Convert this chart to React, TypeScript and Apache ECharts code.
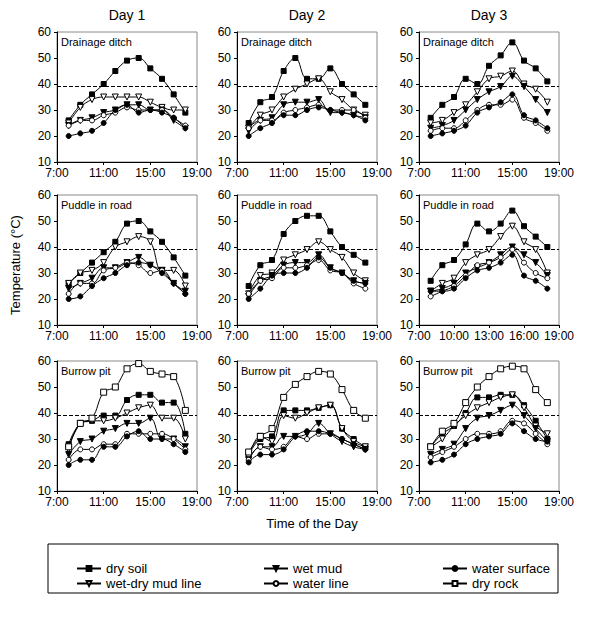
import React, { useEffect, useRef } from "react";
import * as echarts from "echarts";

const hours = [8, 9, 10, 11, 12, 13, 14, 15, 16, 17, 18];
const seriesNames = ["dry soil", "wet-dry mud line", "wet mud", "water line", "water surface", "dry rock"];
const days = ["Day 1", "Day 2", "Day 3"];
const sites = ["Drainage ditch", "Puddle in road", "Burrow pit"];
const threshold = 39;

// order: dry soil, wet-dry mud line, wet mud, water line, water surface, (dry rock)
const ditchDay1 = [
  [26, 32, 36, 40, 45, 49, 50, 46, 42, 36, 29],
  [25, 31, 34, 35, 35, 35, 35, 33, 31, 30, 30],
  [24, 26, 27, 29, 30, 32, 32, 30, 30, 26, 23],
  [24, 26, 26, 28, 29, 31, 30, 30, 30, 27, 24],
  [20, 21, 22, 25, 30, 32, 29, 30, 29, 27, 23],
];
const ditchDay2 = [
  [25, 33, 35, 45, 50, 42, 42, 46, 40, 36, 32],
  [23, 28, 30, 35, 38, 40, 42, 37, 34, 30, 28],
  [22, 26, 27, 32, 33, 33, 34, 29, 29, 28, 27],
  [23, 26, 26, 29, 30, 31, 32, 30, 30, 30, 27],
  [20, 23, 25, 28, 28, 30, 31, 30, 29, 28, 26],
];
const ditchDay3 = [
  [27, 32, 35, 42, 40, 47, 51, 56, 49, 46, 41],
  [25, 26, 29, 32, 37, 42, 43, 45, 40, 38, 33],
  [23, 24, 26, 30, 34, 37, 39, 43, 39, 34, 29],
  [22, 23, 23, 26, 30, 32, 32, 34, 27, 25, 22],
  [20, 21, 22, 24, 29, 31, 33, 36, 28, 26, 23],
];
const puddleDay1 = [
  [26, 30, 34, 38, 42, 49, 50, 46, 42, 36, 29],
  [26, 30, 31, 34, 40, 42, 44, 42, 31, 31, 25],
  [24, 26, 28, 32, 32, 34, 36, 33, 31, 26, 23],
  [22, 26, 26, 31, 32, 34, 33, 30, 31, 26, 22],
  [20, 21, 25, 28, 30, 33, 34, 33, 30, 26, 22],
];
const puddleDay2 = [
  [25, 33, 35, 45, 50, 52, 52, 46, 40, 37, 34],
  [22, 29, 30, 35, 37, 39, 42, 39, 36, 30, 27],
  [21, 27, 29, 33, 34, 34, 37, 32, 30, 27, 26],
  [22, 27, 28, 32, 32, 33, 35, 31, 30, 26, 24],
  [20, 24, 29, 30, 30, 32, 36, 32, 30, 27, 26],
];
const puddleDay3 = [
  [27, 33, 35, 41, 49, 46, 49, 54, 48, 44, 40],
  [23, 26, 28, 34, 37, 39, 44, 48, 42, 39, 30],
  [23, 24, 26, 30, 32, 34, 37, 40, 37, 34, 29],
  [21, 23, 25, 29, 33, 34, 36, 39, 34, 30, 28],
  [23, 23, 24, 28, 31, 32, 34, 37, 29, 27, 24],
];
const burrowDay1 = [
  [28, 36, 37, 39, 39, 45, 47, 47, 44, 44, 32],
  [26, 36, 37, 37, 38, 40, 42, 43, 38, 38, 30],
  [24, 29, 30, 33, 34, 36, 36, 38, 30, 30, 27],
  [22, 26, 26, 28, 28, 32, 32, 32, 32, 30, 26],
  [20, 22, 22, 27, 27, 31, 33, 30, 30, 28, 25],
  [27, 36, 38, 48, 50, 57, 59, 56, 55, 54, 41],
];
const burrowDay2 = [
  [24, 30, 31, 41, 41, 41, 42, 43, 34, 30, 27],
  [23, 31, 29, 39, 38, 40, 42, 43, 34, 29, 27],
  [22, 27, 27, 31, 31, 32, 36, 32, 29, 27, 26],
  [22, 27, 26, 27, 31, 30, 32, 32, 30, 28, 26],
  [21, 24, 24, 26, 31, 33, 33, 32, 30, 28, 26],
  [25, 31, 34, 46, 51, 54, 56, 55, 49, 41, 38],
];
const burrowDay3 = [
  [27, 32, 35, 40, 46, 46, 47, 47, 43, 37, 30],
  [27, 30, 35, 39, 42, 44, 46, 47, 42, 35, 32],
  [24, 26, 28, 34, 38, 39, 41, 43, 39, 34, 29],
  [23, 25, 27, 30, 32, 32, 33, 37, 36, 32, 28],
  [21, 22, 24, 28, 30, 31, 32, 36, 33, 30, 29],
  [27, 33, 36, 44, 50, 54, 57, 58, 57, 49, 44],
];

const panels = [
  [ditchDay1, ditchDay2, ditchDay3],
  [puddleDay1, puddleDay2, puddleDay3],
  [burrowDay1, burrowDay2, burrowDay3],
];
const xIntervals = [
  [4, 4, 4],
  [4, 4, 3],
  [4, 4, 4],
];

const FONT = "Liberation Sans, Arial, sans-serif";
const colLefts = [57, 237, 419];
const rowTops = [32, 195, 361];
const gridW = 140;
const gridH = 130;

const markerStyles = [
  { symbol: "rect", rotate: 0, filled: true, size: 5 },
  { symbol: "triangle", rotate: 180, filled: false, size: 6 },
  { symbol: "triangle", rotate: 180, filled: true, size: 6 },
  { symbol: "circle", rotate: 0, filled: false, size: 5 },
  { symbol: "circle", rotate: 0, filled: true, size: 5 },
  { symbol: "rect", rotate: 0, filled: false, size: 6 },
];

export default function App() {
  const ref = useRef<HTMLDivElement>(null);
  useEffect(() => {
    if (!ref.current) return;
    const chart = echarts.init(ref.current, null, { renderer: "svg" });
    const grids: any[] = [];
    const xAxes: any[] = [];
    const yAxes: any[] = [];
    const series: any[] = [];
    const graphics: any[] = [];
    let gi = 0;
    for (let r = 0; r < 3; r++) {
      for (let c = 0; c < 3; c++) {
        grids.push({
          left: colLefts[c],
          top: rowTops[r],
          width: gridW,
          height: gridH,
          show: true,
          borderColor: "#8a8a8a",
          borderWidth: 1,
          backgroundColor: "transparent",
        });
        xAxes.push({
          type: "value",
          gridIndex: gi,
          min: 7,
          max: 19,
          interval: xIntervals[r][c],
          axisLine: { show: true, onZero: false, lineStyle: { color: "#000", width: 1 } },
          axisTick: { show: true, length: 3, lineStyle: { color: "#000" } },
          splitLine: { show: false },
          axisLabel: {
            color: "#000",
            fontSize: 12,
            fontFamily: FONT,
            margin: 5,
            formatter: (v: number) => `${v}:00`,
          },
        });
        yAxes.push({
          type: "value",
          gridIndex: gi,
          min: 10,
          max: 60,
          interval: 10,
          axisLine: { show: true, onZero: false, lineStyle: { color: "#000", width: 1 } },
          axisTick: { show: true, length: 3, lineStyle: { color: "#000" } },
          splitLine: { show: false },
          axisLabel: { color: "#000", fontSize: 12, fontFamily: FONT, margin: 6 },
        });
        const data = panels[r][c];
        data.forEach((vals, si) => {
          const m = markerStyles[si];
          const s: any = {
            type: "line",
            name: seriesNames[si],
            xAxisIndex: gi,
            yAxisIndex: gi,
            data: hours.map((h, i) => [h, vals[i]]),
            smooth: 0.4,
            symbol: m.symbol,
            symbolSize: m.size,
            symbolRotate: m.rotate,
            showSymbol: true,
            lineStyle: { color: "#000", width: 1 },
            itemStyle: {
              color: m.filled ? "#000" : "#fff",
              borderColor: "#000",
              borderWidth: 1,
            },
            z: 3,
          };
          if (si === 0) {
            s.markLine = {
              silent: true,
              symbol: ["none", "none"],
              label: { show: false },
              lineStyle: { type: "dashed", color: "#000", width: 1 },
              data: [{ yAxis: threshold }],
              z: 2,
            };
          }
          series.push(s);
        });
        graphics.push({
          type: "text",
          left: colLefts[c] + 4,
          top: rowTops[r] + 4,
          style: { text: sites[r], fontSize: 11, fontFamily: FONT, fill: "#000" },
        });
        gi++;
      }
    }
    days.forEach((d, c) => {
      graphics.push({
        type: "text",
        x: colLefts[c] + gridW / 2,
        y: 15,
        style: {
          text: d,
          fontSize: 14,
          fontFamily: FONT,
          fill: "#000",
          textAlign: "center",
          textVerticalAlign: "middle",
        },
      });
    });
    graphics.push({
      type: "text",
      x: 15,
      y: 265,
      rotation: Math.PI / 2,
      style: {
        text: "Temperature (°C)",
        fontSize: 13,
        fontFamily: FONT,
        fill: "#000",
        textAlign: "center",
        textVerticalAlign: "middle",
      },
    });
    graphics.push({
      type: "text",
      x: 312,
      y: 523,
      style: {
        text: "Time of the Day",
        fontSize: 13,
        fontFamily: FONT,
        fill: "#000",
        textAlign: "center",
        textVerticalAlign: "middle",
      },
    });
    graphics.push({
      type: "rect",
      shape: { x: 48, y: 544, width: 510, height: 49 },
      style: { fill: "none", stroke: "#000", lineWidth: 1 },
    });

    const legendCommon = {
      orient: "vertical",
      top: 557,
      itemWidth: 24,
      itemHeight: 6,
      itemGap: 2,
      selectedMode: false,
      textStyle: { fontSize: 13, fontFamily: FONT, color: "#000", lineHeight: 12 },
    };
    const legends = [
      { ...legendCommon, left: 71, data: ["dry soil", "wet-dry mud line"] },
      { ...legendCommon, left: 258, data: ["wet mud", "water line"] },
      { ...legendCommon, left: 437, data: ["water surface", "dry rock"] },
    ];

    chart.setOption({
      animation: false,
      backgroundColor: "#fff",
      grid: grids,
      xAxis: xAxes,
      yAxis: yAxes,
      series,
      legend: legends,
      graphic: graphics,
    });
    return () => chart.dispose();
  }, []);
  return (
    <div
      ref={ref}
      style={{ position: "absolute", left: 0, top: 0, width: 600, height: 626 }}
    />
  );
}
